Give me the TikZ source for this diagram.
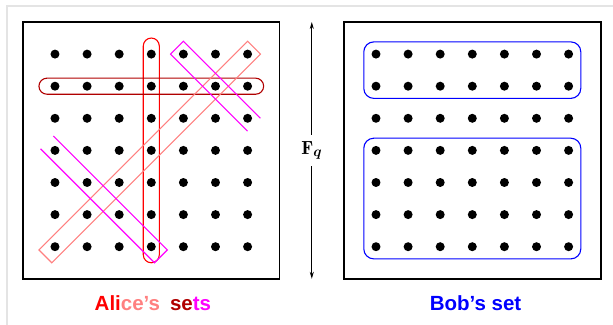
\documentclass[tikz,border=0pt]{standalone}
\usepackage{amsmath}
\usepackage{amssymb}
\usepackage{bm}
\usepackage{fontspec}
\usepackage{tikz}
\usetikzlibrary{arrows.meta}
\newfontfamily\labelfont{Liberation Sans}
\definecolor{alicered}{HTML}{FF0000}
\definecolor{alicepink}{HTML}{FF8080}
\definecolor{alicedark}{HTML}{B00000}
\definecolor{alicemag}{HTML}{FF00FF}
\definecolor{bobblue}{HTML}{0000FF}
\definecolor{frameg}{HTML}{E4E4E4}
\newcommand{\Fq}{{\mathbf{F}_{\bm{q}}}}

\begin{document}
\begin{tikzpicture}[x=32.1pt,y=32.1pt,
    setline/.style={line width=1.1pt},
    caption/.style={font=\labelfont\bfseries\fontsize{20.5}{24}\selectfont}]
      \useasboundingbox (-1.713,-2.439) rectangle (17.383,7.685);
      \draw [frameg, line width=1.5pt] (-1.5,-2.5) -- (-1.5,7.5) -- (17.5,7.5);
      \draw [line width=1.6pt] (-1,-1) rectangle (7,7);
      \draw [line width=1.6pt] (9,-1) rectangle (17,7);
      \foreach \i in {0,...,6}
        \foreach \j in {0,...,6} {
          \fill (\i,\j) circle (0.14);
          \fill (\i+10,\j) circle (0.14);
        }
      \draw [setline, alicered, rounded corners=8pt] (2.75,-0.5) rectangle (3.25,6.5);
      \draw [setline, alicedark, rounded corners=8pt] (-0.5,4.75) rectangle (6.5,5.25);
      \draw [setline, alicepink] (-0.5,-0.1) -- (-0.1,-0.5) -- (6.4,6.0) -- (6.0,6.4) -- cycle;
      \draw [setline, alicemag] (6.4,4.0) -- (4.0,6.4) -- (3.6,6.0) -- (6.0,3.6);
      \draw [setline, alicemag] (-0.05,3.45) -- (3.5,-0.1) -- (3.1,-0.5) -- (-0.45,3.05);
      \draw [setline, bobblue, rounded corners=10pt] (9.62,4.62) rectangle (16.38,6.38);
      \draw [setline, bobblue, rounded corners=10pt] (9.62,-0.38) rectangle (16.38,3.38);
      \coordinate (fqtop) at (8,7);
      \coordinate (fqbot) at (8,-1);
      \draw [{Stealth[length=7pt,width=4pt]}-{Stealth[length=7pt,width=4pt]}, line width=0.8pt]
        (fqbot) -- (fqtop) node [midway, fill=white, inner sep=6pt, font=\fontsize{19}{22}\selectfont] (fq) {$\Fq$};
      \node [caption] (alice) at (3.05,-1.75) {{\color{alicered}Ali}{\color{alicepink}ce’s}\hspace{10pt}{\color{alicedark}se}{\color{alicemag}ts}};
      \node [caption, bobblue] (bob) at (13.1,-1.75) {Bob’s set};
    \end{tikzpicture}
\end{document}
